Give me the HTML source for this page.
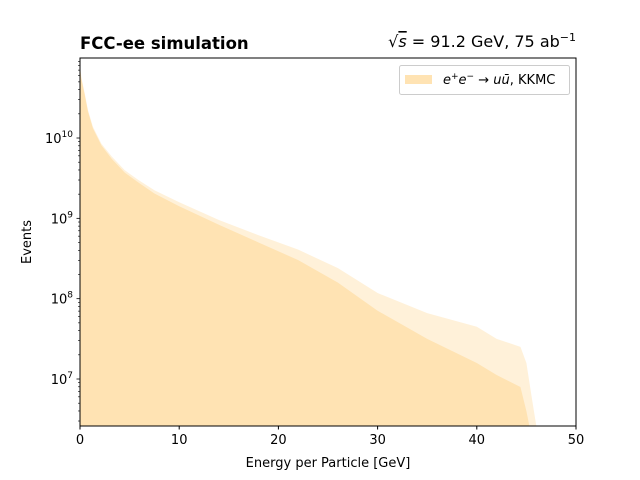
<!DOCTYPE html>
<html><head><meta charset="utf-8"><style>
body{margin:0;background:#fff;font-family:"Liberation Sans","DejaVu Sans",sans-serif}
svg text{font-family:"DejaVu Sans","Liberation Sans",sans-serif}
</style></head><body>
<svg id="c" width="640" height="480" style="position:absolute;left:0;top:0">
<rect width="640" height="480" fill="#fff"/>
<g id="marks"></g>
<g id="axes"></g>
</svg>
<script>
const energiesUpper=[0,0.13,0.47,0.8,1.3,2.15,3.2,4.5,5.85,7.5,10,14,18,22,26,30,35,40,42,44.4,45,45.5,46];
const logUpper=[10.9,10.76,10.56,10.35,10.14,9.93,9.77,9.6,9.48,9.35,9.2,8.98,8.79,8.61,8.38,8.07,7.82,7.65,7.5,7.4,7.2,6.8,6.4];
const energiesLower=[0,0.13,0.47,0.8,1.3,2.15,3.2,4.5,5.85,7.5,10,14,18,22,26,30,35,40,42,44.4,45,45.3];
const logLower=[10.88,10.74,10.54,10.33,10.12,9.91,9.74,9.57,9.45,9.31,9.15,8.92,8.7,8.48,8.2,7.85,7.5,7.2,7.05,6.9,6.6,6.4];
const xTicks=[0,10,20,30,40,50];
const yTicks=[7,8,9,10];
const X0=80,X1=576,Y0=58,Y1=426,LMIN=6.415,LMAX=10.996;
const sx=e=>X0+(e/50)*(X1-X0);
const sy=l=>Y1-(l-LMIN)/(LMAX-LMIN)*(Y1-Y0);
const NS='http://www.w3.org/2000/svg';
function mk(t,a,p){const e=document.createElementNS(NS,t);for(const k in a)e.setAttribute(k,a[k]);p.appendChild(e);return e;}
const marks=document.getElementById('marks'),axes=document.getElementById('axes');
function poly(es,ls){let p=[[sx(es[0]),Y1]];es.forEach((e,i)=>p.push([sx(e),Math.max(Y0,Math.min(Y1,sy(ls[i])))]));p.push([sx(es[es.length-1]),Y1]);return p.map(q=>q.join(',')).join(' ');}
let u=mk('polygon',{points:poly(energiesUpper,logUpper),fill:'#ffe3b3',opacity:'0.5'},marks);


let l=mk('polygon',{points:poly(energiesLower,logLower),fill:'#ffe3b3'},marks);


mk('rect',{x:X0,y:Y0,width:X1-X0,height:Y1-Y0,fill:'none',stroke:'#000','stroke-width':1},axes);
xTicks.forEach(t=>{const x=sx(t);mk('line',{x1:x,x2:x,y1:Y1,y2:Y1+3.5,stroke:'#000'},axes);
 const tx=mk('text',{x:x,y:Y1+18,'text-anchor':'middle','font-size':13},axes);tx.textContent=t;
 });
for(let d=6;d<=10;d++){for(let m=1;m<10;m++){const lv=d+Math.log10(m);if(lv<LMIN||lv>LMAX)continue;const y=sy(lv);
 mk('line',{x1:X0,x2:X0-(m==1?3.5:2),y1:y,y2:y,stroke:'#000','stroke-width':m==1?0.8:0.6},axes);}}
yTicks.forEach(t=>{const y=sy(t);const tx=mk('text',{x:X0-7,y:y+5,'text-anchor':'end','font-size':13},axes);
 tx.innerHTML='10<tspan dy="-6" font-size="9">'+t+'</tspan>';
 });
</script>
<svg width="640" height="480" style="position:absolute;left:0;top:0">
<text x="328" y="467" text-anchor="middle" font-size="13">Energy per Particle [GeV]</text>
<text transform="translate(31,242) rotate(-90)" text-anchor="middle" font-size="13">Events</text>
<text x="80" y="49" font-size="16.5" font-weight="bold">FCC-ee simulation</text>
<text x="576" y="47" text-anchor="end" font-size="16">√<tspan text-decoration="overline" font-style="italic">s</tspan> = 91.2 GeV, 75 ab<tspan dy="-6" font-size="11">−1</tspan></text>
<g>
<rect x="399.5" y="65.5" width="170" height="29" rx="2" fill="#fff" fill-opacity="0.8" stroke="#ccc"/>
<rect x="405" y="75" width="27" height="9" fill="#ffe3b3"/>
<text x="443" y="84" font-size="13"><tspan font-style="italic">e</tspan><tspan dy="-5" font-size="9">+</tspan><tspan dy="5" font-style="italic">e</tspan><tspan dy="-5" font-size="9">−</tspan><tspan dy="5"> → </tspan><tspan font-style="italic">uū</tspan>, KKMC</text>
</g>
</svg>
</body></html>
